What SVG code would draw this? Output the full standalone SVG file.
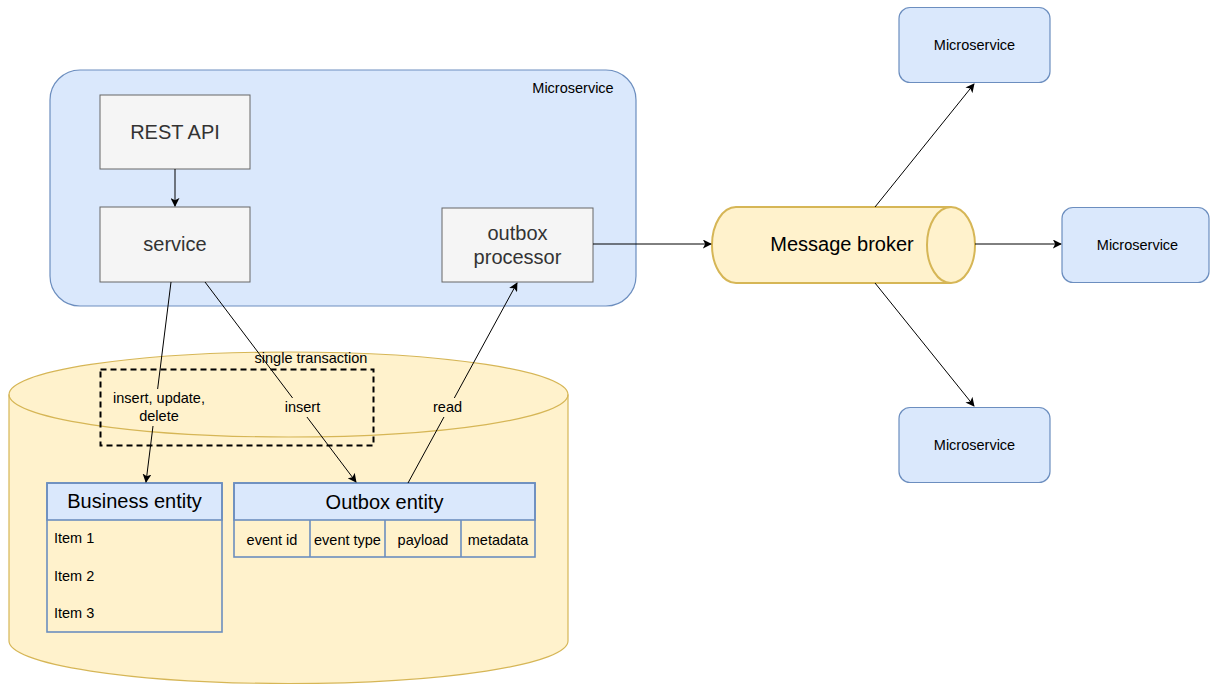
<svg xmlns="http://www.w3.org/2000/svg" width="1210" height="685" viewBox="0 0 1210 685">
<defs>
<marker id="arr" viewBox="0 0 10 10" refX="9" refY="5" markerWidth="9" markerHeight="9" markerUnits="userSpaceOnUse" orient="auto">
<path d="M0,0 L10,5 L0,10 L2.5,5 Z" fill="#000"/>
</marker>
<style>
text{font-family:"Liberation Sans",Arial,sans-serif;text-anchor:middle;fill:#000}
.big{font-size:20px}
.sm{font-size:14.5px}
.gray{fill:#f5f5f5;stroke:#666666;stroke-width:1}
.gt{fill:#333333}
.blue{fill:#dae8fc;stroke:#6c8ebf;stroke-width:1.2}
.yel{fill:#fff2cc;stroke:#d6b656;stroke-width:1.2}
.ent{fill:none;stroke:#6c8ebf;stroke-width:1.6}
.hdr{fill:#dae8fc;stroke:#6c8ebf;stroke-width:1.6}
.edge{fill:none;stroke:#000;stroke-width:1}
.lbg{fill:#fff2cc;stroke:none}
</style>
</defs>
<rect width="1210" height="685" fill="#ffffff"/>

<g id="database">
<path class="yel" d="M9,394.5 A279.5,42.5 0 0 1 568,394.5 L568,641 A279.5,42.5 0 0 1 9,641 Z"/>
<path d="M9,394.5 A279.5,42.5 0 0 0 568,394.5" fill="none" stroke="#d6b656" stroke-width="1.2"/>
</g>

<g id="microservice-container">
<rect class="blue" x="50" y="70" width="586" height="236" rx="30"/>
<text class="sm" x="573" y="93">Microservice</text>
</g>

<g id="rest-api">
<rect class="gray" x="100" y="95" width="150" height="74"/>
<text class="big gt" x="175" y="139">REST API</text>
</g>

<g id="service">
<rect class="gray" x="100" y="207" width="150" height="75"/>
<text class="big gt" x="175" y="251">service</text>
</g>

<g id="outbox-processor">
<rect class="gray" x="442" y="208" width="151" height="74"/>
<text class="big gt" x="517.5" y="240">outbox</text>
<text class="big gt" x="517.5" y="264">processor</text>
</g>

<g id="single-transaction">
<rect x="100.5" y="369.5" width="273" height="76" fill="none" stroke="#000" stroke-width="2" stroke-dasharray="6 4"/>
<text class="sm" x="311" y="363">single transaction</text>
</g>

<g id="business-entity">
<rect class="hdr" x="47" y="483" width="175" height="37"/>
<rect class="ent" x="47" y="483" width="175" height="149"/>
<text class="big" x="134.5" y="508">Business entity</text>
<text class="sm" x="54" y="543" style="text-anchor:start">Item 1</text>
<text class="sm" x="54" y="581" style="text-anchor:start">Item 2</text>
<text class="sm" x="54" y="618" style="text-anchor:start">Item 3</text>
</g>

<g id="outbox-entity">
<rect class="hdr" x="234" y="483" width="301" height="37"/>
<rect class="ent" x="234" y="483" width="301" height="74"/>
<line x1="310" y1="520" x2="310" y2="557" stroke="#6c8ebf" stroke-width="1.6"/>
<line x1="385" y1="520" x2="385" y2="557" stroke="#6c8ebf" stroke-width="1.6"/>
<line x1="461" y1="520" x2="461" y2="557" stroke="#6c8ebf" stroke-width="1.6"/>
<text class="big" x="384.5" y="509">Outbox entity</text>
<text class="sm" x="272" y="545">event id</text>
<text class="sm" x="347.5" y="545">event type</text>
<text class="sm" x="423" y="545">payload</text>
<text class="sm" x="498" y="545">metadata</text>
</g>

<g id="message-broker">
<path d="M736,207 L951,207 A24,38 0 0 1 951,283 L736,283 A24,38 0 0 1 736,207 Z" fill="#fff2cc" stroke="#d6b656" stroke-width="2"/>
<path d="M951,207 A24,38 0 0 0 951,283" fill="none" stroke="#d6b656" stroke-width="2"/>
<text class="big" x="842" y="251">Message broker</text>
</g>

<g id="microservice-top">
<rect class="blue" x="899" y="7.5" width="151" height="75" rx="11"/>
<text class="sm" x="974.5" y="50">Microservice</text>
</g>
<g id="microservice-right">
<rect class="blue" x="1062" y="207.5" width="147" height="75" rx="11"/>
<text class="sm" x="1137.5" y="250">Microservice</text>
</g>
<g id="microservice-bottom">
<rect class="blue" x="899" y="407.5" width="151" height="75" rx="11"/>
<text class="sm" x="974.5" y="450">Microservice</text>
</g>

<g id="connectors">
<line class="edge" x1="175" y1="169" x2="175" y2="206" stroke-width="1.5" marker-end="url(#arr)"/>
<line class="edge" x1="171" y1="282" x2="146" y2="482" marker-end="url(#arr)"/>
<line class="edge" x1="205" y1="282" x2="356" y2="482" marker-end="url(#arr)"/>
<line class="edge" x1="408" y1="483" x2="517" y2="283" marker-end="url(#arr)"/>
<line class="edge" x1="593" y1="244" x2="711" y2="244" marker-end="url(#arr)"/>
<line class="edge" x1="875" y1="207" x2="974" y2="84" marker-end="url(#arr)"/>
<line class="edge" x1="975" y1="244" x2="1061" y2="244" marker-end="url(#arr)"/>
<line class="edge" x1="875" y1="283" x2="974" y2="406" marker-end="url(#arr)"/>
<rect class="lbg" x="111" y="389" width="96" height="37"/>
<text class="sm" x="159" y="403">insert, update,</text>
<text class="sm" x="159" y="421">delete</text>
<rect class="lbg" x="282" y="398" width="41" height="19"/>
<text class="sm" x="302.5" y="412">insert</text>
<rect class="lbg" x="431" y="398" width="33" height="19"/>
<text class="sm" x="447.5" y="412">read</text>
</g>
</svg>
